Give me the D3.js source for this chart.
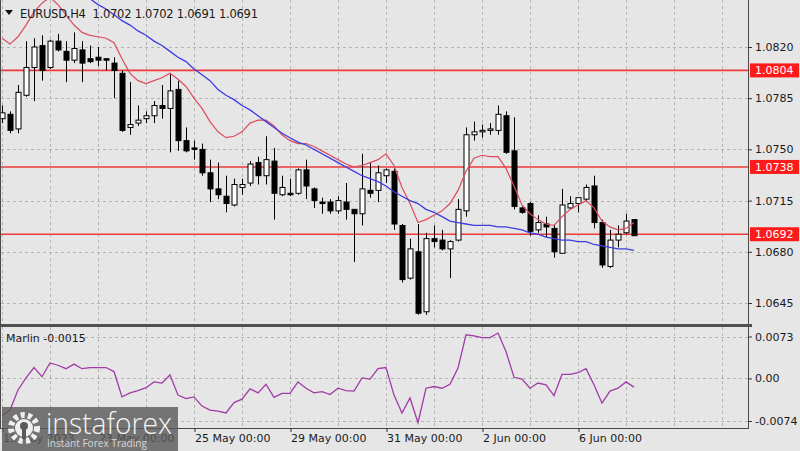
<!DOCTYPE html>
<html>
<head>
<meta charset="utf-8">
<script src="https://cdn.jsdelivr.net/npm/d3@7"></script>
<style>
  body { margin: 0; background: #e6e6e6; }
  svg { display: block; font-family: "DejaVu Sans", Tahoma, sans-serif; }
</style>
</head>
<body>
<svg id="chart" width="800" height="451"></svg>
<script>
// EURUSD H4 candles, index 0 = 19 May 2023 00:00, one bar per 4 hours
const opens = [1.0771,1.0774,1.0764,1.0787,1.0806,1.0821,1.0806,1.0824,1.0817,1.0811,
  1.0818,1.0812,1.0813,1.0812,1.0809,1.0802,1.0765,1.0768,1.0771,1.0773,
  1.0780,1.0778,1.0791,1.0756,1.0751,1.0750,1.0734,1.0723,1.0718,1.0712,
  1.0724,1.0727,1.0741,1.0732,1.0742,1.0719,1.0720,1.0720,1.0736,1.0723,
  1.0714,1.0714,1.0708,1.0714,1.0709,1.0706,1.0722,1.0722,1.0732,1.0735,
  1.0698,1.0662,1.0680,1.0639,1.0689,1.0688,1.0682,1.0688,1.0708,1.0760,
  1.0762,1.0763,1.0763,1.0773,1.0749,1.0710,1.0713,1.0695,1.0699,1.0696,
  1.0679,1.0710,1.0713,1.0716,1.0725,1.0700,1.0670,1.0688,1.0693,1.0702];
const highs = [1.0780,1.0776,1.0794,1.0824,1.0826,1.0828,1.0825,1.0829,1.0824,1.0830,
  1.0824,1.0821,1.0820,1.0812,1.0813,1.0804,1.0796,1.0780,1.0776,1.0783,
  1.0794,1.0802,1.0797,1.0765,1.0756,1.0754,1.0743,1.0741,1.0732,1.0730,
  1.0730,1.0742,1.0745,1.0759,1.0751,1.0732,1.0730,1.0737,1.0743,1.0724,
  1.0717,1.0716,1.0718,1.0727,1.0709,1.0747,1.0741,1.0739,1.0737,1.0737,
  1.0699,1.0689,1.0699,1.0693,1.0698,1.0695,1.0688,1.0716,1.0765,1.0769,
  1.0767,1.0768,1.0780,1.0776,1.0772,1.0711,1.0714,1.0705,1.0704,1.0699,
  1.0723,1.0718,1.0717,1.0726,1.0732,1.0702,1.0695,1.0698,1.0706,1.0702];
const lows = [1.0768,1.0761,1.0761,1.0786,1.0783,1.0797,1.0805,1.0817,1.0796,1.0809,
  1.0796,1.0809,1.0807,1.0804,1.0785,1.0762,1.0760,1.0766,1.0768,1.0768,
  1.0771,1.0748,1.0749,1.0748,1.0743,1.0732,1.0714,1.0716,1.0707,1.0711,
  1.0719,1.0725,1.0726,1.0726,1.0702,1.0718,1.0718,1.0719,1.0716,1.0710,
  1.0706,1.0706,1.0706,1.0702,1.0673,1.0698,1.0717,1.0714,1.0727,1.0695,
  1.0659,1.0661,1.0637,1.0637,1.0683,1.0681,1.0662,1.0687,1.0704,1.0756,
  1.0758,1.0760,1.0760,1.0747,1.0709,1.0706,1.0691,1.0693,1.0690,1.0676,
  1.0679,1.0709,1.0707,1.0714,1.0696,1.0669,1.0669,1.0683,1.0692,1.0691];
const closes = [1.0775,1.0763,1.0789,1.0806,1.0820,1.0804,1.0824,1.0818,1.0811,1.0819,
  1.0809,1.0810,1.0811,1.0811,1.0804,1.0763,1.0767,1.0770,1.0773,1.0780,
  1.0778,1.0790,1.0756,1.0749,1.0750,1.0734,1.0723,1.0719,1.0713,1.0726,
  1.0726,1.0740,1.0732,1.0743,1.0720,1.0724,1.0719,1.0736,1.0725,1.0715,
  1.0713,1.0708,1.0715,1.0709,1.0706,1.0723,1.0720,1.0734,1.0736,1.0699,
  1.0661,1.0682,1.0638,1.0689,1.0687,1.0682,1.0687,1.0709,1.0760,1.0762,
  1.0763,1.0764,1.0774,1.0748,1.0711,1.0707,1.0694,1.0700,1.0697,1.0680,
  1.0712,1.0713,1.0717,1.0724,1.0700,1.0671,1.0688,1.0692,1.0701,1.0691];

// fast moving average (red)
const redMa = [1.0826,1.0822,1.0827,1.0835,1.0844,1.0850,1.0854,1.0849,1.0842,1.0835,
  1.0830,1.0828,1.0827,1.0826,1.0823,1.0812,1.0802,1.0797,1.0795,1.0797,
  1.0799,1.0802,1.0798,1.0793,1.0785,1.0778,1.0769,1.0762,1.0758,1.0759,
  1.0762,1.0768,1.0770,1.0770,1.0766,1.0760,1.0756,1.0754,1.0754,1.0752,
  1.0749,1.0746,1.0743,1.0740,1.0738,1.0739,1.0741,1.0743,1.0747,1.0739,
  1.0724,1.0713,1.0700,1.0702,1.0705,1.0708,1.0713,1.0722,1.0735,1.0744,
  1.0746,1.0745,1.0745,1.0737,1.0725,1.0712,1.0706,1.0702,1.0699,1.0698,
  1.0704,1.0709,1.0712,1.0715,1.0710,1.0701,1.0697,1.0695,1.0696,1.0700];

// slow moving average (blue), starts above the visible range
const blueMa = [null,null,null,null,null,null,null,null,null,null,
  1.0857,1.0853,1.0849,1.0846,1.0842,1.0838,1.0835,1.0831,1.0828,1.0824,
  1.0821,1.0817,1.0813,1.0810,1.0805,1.0801,1.0797,1.0791,1.0787,1.0784,
  1.0780,1.0777,1.0773,1.0769,1.0765,1.0761,1.0758,1.0755,1.0753,1.0750,
  1.0747,1.0744,1.0741,1.0738,1.0735,1.0732,1.0730,1.0728,1.0725,1.0721,
  1.0718,1.0715,1.0713,1.0709,1.0707,1.0704,1.0701,1.0700,1.0699,1.0698,
  1.0698,1.0698,1.0697,1.0697,1.0696,1.0695,1.0693,1.0692,1.0690,1.0689,
  1.0688,1.0688,1.0687,1.0687,1.0685,1.0684,1.0683,1.0682,1.0682,1.0681];

// Marlin oscillator
const marlin = [-0.0065,-0.0055,-0.0020,0.0001,0.0019,0.0003,0.0027,0.0023,0.0017,0.0025,
  0.0017,0.0019,0.0019,0.0019,0.0012,-0.0032,-0.0025,-0.0021,-0.0016,-0.0006,
  -0.0008,0.0006,-0.0029,-0.0035,-0.0032,-0.0048,-0.0055,-0.0057,-0.0060,-0.0042,
  -0.0036,-0.0018,-0.0025,-0.0010,-0.0033,-0.0026,-0.0026,-0.0006,-0.0017,-0.0025,
  -0.0023,-0.0028,-0.0017,-0.0021,-0.0022,0.0001,-0.0001,0.0017,0.0019,-0.0029,
  -0.0060,-0.0034,-0.0077,-0.0017,-0.0014,-0.0017,-0.0010,0.0018,0.0076,0.0074,
  0.0071,0.0071,0.0079,0.0047,0.0002,-0.0001,-0.0017,-0.0008,-0.0011,-0.0030,
  0.0007,0.0007,0.0010,0.0017,-0.0011,-0.0043,-0.0022,-0.0017,-0.0006,-0.0015];

const priceTicks = [1.0820, 1.0785, 1.0750, 1.0715, 1.0680, 1.0645];
const levels = [1.0804, 1.0738, 1.0692];
const marlinTicks = [0.0073, 0, -0.0074];
const marlinTickLabels = ["0.0073", "0.00", "-0.0074"];
const dateTicks = [0, 12, 24, 36, 48, 60, 72];
const dateLabels = ["19 May 2023", "23 May 00:00", "25 May 00:00", "29 May 00:00", "31 May 00:00", "2 Jun 00:00", "6 Jun 00:00"];

const svg = d3.select("#chart");
const W = 800, H = 451;
const plotRight = 748, mainBottom = 324, subTop = 327, subBottom = 428;

svg.append("rect").attr("width", W).attr("height", H).attr("fill", "#e6e6e6");

const x = d3.scaleLinear().domain([0, 79]).range([2, 634]);
const y = d3.scaleLinear().domain([1.0645, 1.0820]).range([303, 47]);
const ym = d3.scaleLinear().domain([-0.0074, 0.0073]).range([421, 336.5]);

const defs = svg.append("defs");
defs.append("clipPath").attr("id", "clipMain")
  .append("rect").attr("x", 1).attr("y", 0).attr("width", plotRight - 1).attr("height", mainBottom);
defs.append("clipPath").attr("id", "clipSub")
  .append("rect").attr("x", 1).attr("y", subTop).attr("width", plotRight - 1).attr("height", subBottom - subTop);

// grid
const gridColor = "#b4b4b4";
const vGrid = d3.range(0, 200, 6).filter(i => x(i) < plotRight - 2);
const grid = svg.append("g").attr("stroke", gridColor).attr("stroke-dasharray", "3,3").attr("stroke-width", 1);
grid.selectAll(".vg").data(vGrid).enter().append("line")
  .attr("x1", d => Math.round(x(d)) + 0.5).attr("x2", d => Math.round(x(d)) + 0.5)
  .attr("y1", 0).attr("y2", mainBottom);
grid.selectAll(".vg2").data(vGrid).enter().append("line")
  .attr("x1", d => Math.round(x(d)) + 0.5).attr("x2", d => Math.round(x(d)) + 0.5)
  .attr("y1", subTop).attr("y2", subBottom);
grid.selectAll(".hg").data(priceTicks).enter().append("line")
  .attr("x1", 1).attr("x2", plotRight)
  .attr("y1", d => Math.round(y(d)) + 0.5).attr("y2", d => Math.round(y(d)) + 0.5);
grid.selectAll(".hm").data(marlinTicks).enter().append("line")
  .attr("x1", 1).attr("x2", plotRight)
  .attr("y1", d => Math.round(ym(d)) + 0.5).attr("y2", d => Math.round(ym(d)) + 0.5);

// horizontal levels
const main = svg.append("g").attr("clip-path", "url(#clipMain)");
main.selectAll(".lvl").data(levels).enter().append("line")
  .attr("x1", 1).attr("x2", plotRight)
  .attr("y1", d => y(d)).attr("y2", d => y(d))
  .attr("stroke", "#ee3a3a").attr("stroke-width", 1.6);

// candles
const idx = d3.range(opens.length);
const cg = main.append("g");
cg.selectAll(".wick").data(idx).enter().append("line")
  .attr("x1", i => Math.round(x(i)) + 0.5).attr("x2", i => Math.round(x(i)) + 0.5)
  .attr("y1", i => y(highs[i])).attr("y2", i => y(lows[i]))
  .attr("stroke", "#000").attr("stroke-width", 1);
cg.selectAll(".body").data(idx).enter().append("rect")
  .attr("x", i => Math.round(x(i)) - 2)
  .attr("width", 5)
  .attr("y", i => y(Math.max(opens[i], closes[i])))
  .attr("height", i => Math.max(1, Math.abs(y(opens[i]) - y(closes[i]))))
  .attr("fill", i => closes[i] >= opens[i] ? "#ffffff" : "#000000")
  .attr("stroke", "#000").attr("stroke-width", 1);

// moving averages
const redLine = d3.line().x((d, i) => x(i)).y(d => y(d));
main.append("path").datum(redMa).attr("d", redLine)
  .attr("fill", "none").attr("stroke", "#dc4b5e").attr("stroke-width", 1.2);
const blueLine = d3.line().defined(d => d !== null).x((d, i) => x(i)).y(d => y(d));
main.append("path").datum(blueMa).attr("d", blueLine)
  .attr("fill", "none").attr("stroke", "#3c3ce0").attr("stroke-width", 1.3);

// Marlin line
const sub = svg.append("g").attr("clip-path", "url(#clipSub)");
const mLine = d3.line().x((d, i) => x(i)).y(d => ym(d));
sub.append("path").datum(marlin).attr("d", mLine)
  .attr("fill", "none").attr("stroke", "#a03ca6").attr("stroke-width", 1.3);

// frame
const frame = svg.append("g").attr("stroke", "#4a4a4a").attr("fill", "none");
frame.append("line").attr("x1", 0.5).attr("x2", 0.5).attr("y1", 0).attr("y2", subBottom);
frame.append("line").attr("x1", plotRight + 0.5).attr("x2", plotRight + 0.5).attr("y1", 0).attr("y2", subBottom + 1);
frame.append("rect").attr("x", 0).attr("y", mainBottom).attr("width", plotRight + 4).attr("height", 3)
  .attr("fill", "#505050").attr("stroke", "none");
frame.append("line").attr("x1", 0).attr("x2", plotRight + 1).attr("y1", subBottom + 0.5).attr("y2", subBottom + 0.5);

// price axis
const pAxis = d3.axisRight(y).tickValues(priceTicks).tickFormat(d3.format(".4f")).tickSize(4).tickPadding(3);
const pg = svg.append("g").attr("transform", `translate(${plotRight},0)`).call(pAxis);
pg.select(".domain").remove();
pg.selectAll("text").attr("font-size", 11).attr("fill", "#1a1a1a").attr("font-family", "DejaVu Sans, sans-serif");
pg.selectAll("line").attr("stroke", "#333");

// level labels
const lg = svg.append("g");
lg.selectAll("rect").data(levels).enter().append("rect")
  .attr("x", plotRight + 2).attr("width", W - plotRight - 3)
  .attr("y", d => y(d) - 7).attr("height", 14)
  .attr("fill", "#ff1a1a");
lg.selectAll("text").data(levels).enter().append("text")
  .attr("x", plotRight + 7).attr("y", d => y(d) + 4)
  .attr("font-size", 11).attr("fill", "#ffffff")
  .text(d => d.toFixed(4));

// Marlin axis
const mAxis = d3.axisRight(ym).tickValues(marlinTicks)
  .tickFormat((d, i) => marlinTickLabels[i]).tickSize(4).tickPadding(3);
const mg = svg.append("g").attr("transform", `translate(${plotRight},0)`).call(mAxis);
mg.select(".domain").remove();
mg.selectAll("text").attr("font-size", 11).attr("fill", "#1a1a1a").attr("font-family", "DejaVu Sans, sans-serif");
mg.selectAll("line").attr("stroke", "#333");

// time axis
const tAxis = d3.axisBottom(x).tickValues(dateTicks)
  .tickFormat((d, i) => dateLabels[i]).tickSize(4).tickPadding(2);
const tg = svg.append("g").attr("transform", `translate(0.5,${subBottom})`).call(tAxis);
tg.select(".domain").remove();
tg.selectAll("text").attr("font-size", 11).attr("fill", "#1a1a1a")
  .attr("text-anchor", "start").attr("font-family", "DejaVu Sans, sans-serif");
tg.selectAll("line").attr("stroke", "#333");

// titles
svg.append("path").attr("d", "M5,10 L13,10 L9,15 Z").attr("fill", "#111");
svg.append("text").attr("x", 20).attr("y", 18).attr("font-size", 11.5).attr("fill", "#1a1a1a")
  .attr("xml:space", "preserve").attr("textLength", 238).attr("lengthAdjust", "spacing")
  .text("EURUSD,H4  1.0702 1.0702 1.0691 1.0691");
svg.append("text").attr("x", 6).attr("y", 342).attr("font-size", 11).attr("fill", "#1a1a1a")
  .text("Marlin " + marlin[marlin.length - 1].toFixed(4));

// watermark
const wm = svg.append("g");
wm.append("rect").attr("x", 2).attr("y", 407).attr("width", 176).attr("height", 44)
  .attr("fill", "#5a5a5a").attr("opacity", 0.82);
const gear = wm.append("g").attr("transform", "translate(24,428)");
gear.append("circle").attr("r", 13).attr("fill", "none").attr("stroke", "#f0f0f0")
  .attr("stroke-width", 6).attr("stroke-dasharray", "4,3.2");
gear.append("circle").attr("r", 9).attr("fill", "#f0f0f0");
gear.append("circle").attr("r", 4).attr("cy", -2).attr("fill", "#5a5a5a");
gear.append("rect").attr("x", -2).attr("y", 1).attr("width", 4).attr("height", 10).attr("fill", "#5a5a5a");
wm.append("text").attr("x", 46).attr("y", 434).attr("font-size", 30)
  .attr("font-family", "Open Sans, sans-serif").attr("font-weight", 300)
  .attr("fill", "#f4f4f4").attr("textLength", 126).attr("lengthAdjust", "spacingAndGlyphs")
  .text("instaforex");
wm.append("text").attr("x", 47).attr("y", 447).attr("font-size", 10)
  .attr("font-family", "Open Sans, sans-serif")
  .attr("fill", "#d8d8d8").attr("textLength", 100).attr("lengthAdjust", "spacingAndGlyphs")
  .text("Instant Forex Trading");
</script>
</body>
</html>
